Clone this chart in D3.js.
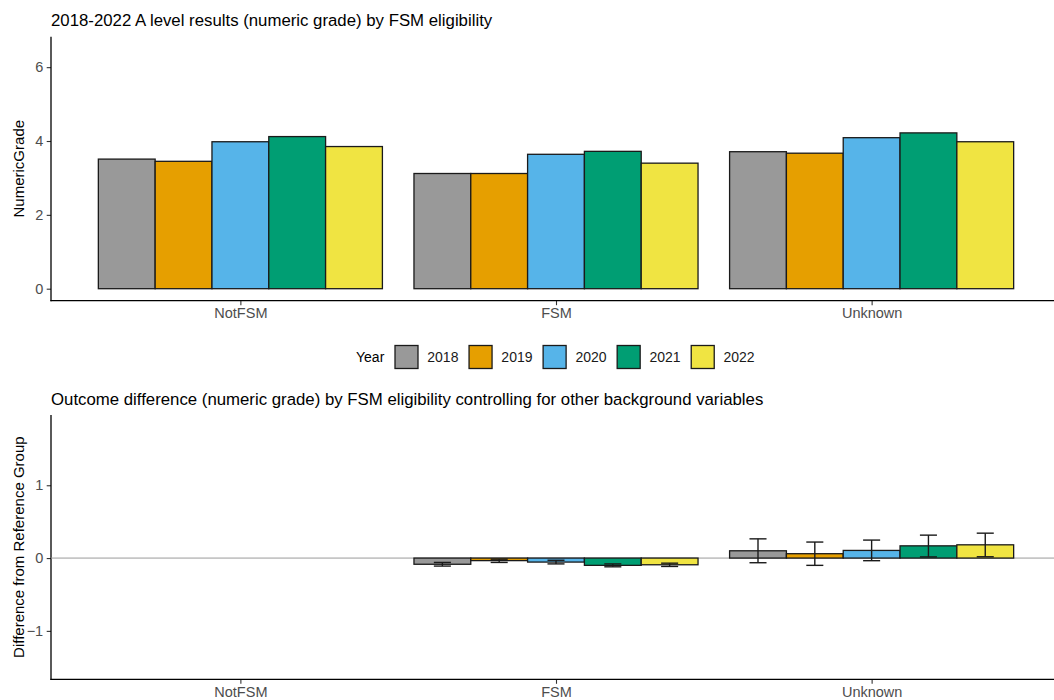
<!DOCTYPE html>
<html>
<head>
<meta charset="utf-8">
<script src="https://cdn.jsdelivr.net/npm/d3@7"></script>
<style>
  html, body { margin: 0; padding: 0; background: #fff; }
  svg { display: block; font-family: "Liberation Sans", Arial, sans-serif; }
</style>
</head>
<body>
<svg id="chart" width="1054" height="700"></svg>
<script>
// ---------- data ----------
const categories = ["NotFSM", "FSM", "Unknown"];
const years = ["2018", "2019", "2020", "2021", "2022"];
const yearColors = ["#999999", "#E69F00", "#56B4E9", "#009E73", "#F0E442"];

// Top panel: mean numeric grade, per category, per year
const grade2018 = [3.51, 3.12, 3.71];
const grade2019 = [3.45, 3.12, 3.67];
const grade2020 = [3.98, 3.64, 4.09];
const grade2021 = [4.12, 3.72, 4.22];
const grade2022 = [3.85, 3.40, 3.98];

// Bottom panel: difference from reference group (NotFSM is the reference: no bar)
const diff2018 = [null, -0.085, 0.10];
const diff2019 = [null, -0.035, 0.06];
const diff2020 = [null, -0.055, 0.105];
const diff2021 = [null, -0.100, 0.168];
const diff2022 = [null, -0.092, 0.182];
const lower2018 = [null, -0.11, -0.064];
const lower2019 = [null, -0.06, -0.10];
const lower2020 = [null, -0.08, -0.036];
const lower2021 = [null, -0.12, 0.016];
const lower2022 = [null, -0.115, 0.018];
const upper2018 = [null, -0.06, 0.264];
const upper2019 = [null, -0.015, 0.22];
const upper2020 = [null, -0.03, 0.247];
const upper2021 = [null, -0.08, 0.315];
const upper2022 = [null, -0.07, 0.342];

const topTicks = [0, 2, 4, 6];
const bottomTicks = [-1, 0, 1];

const topTitle = "2018-2022 A level results (numeric grade) by FSM eligibility";
const bottomTitle = "Outcome difference (numeric grade) by FSM eligibility controlling for other background variables";
const topYLabel = "NumericGrade";
const bottomYLabel = "Difference from Reference Group";
const legendTitle = "Year";

const gradeSeries = [grade2018, grade2019, grade2020, grade2021, grade2022];
const diffSeries = [diff2018, diff2019, diff2020, diff2021, diff2022];
const lowerSeries = [lower2018, lower2019, lower2020, lower2021, lower2022];
const upperSeries = [upper2018, upper2019, upper2020, upper2021, upper2022];

// ---------- layout ----------
const svg = d3.select("#chart");
const W = 1054;
const panelLeft = 51, panelRight = 1061;

const x = d3.scalePoint().domain(categories).range([panelLeft, panelRight]).padding(0.6);
const groupW = x.step() * 0.9;
const xYear = d3.scaleBand().domain(years).range([-groupW / 2, groupW / 2]).padding(0);
const color = d3.scaleOrdinal().domain(years).range(yearColors);

const tickColor = "#333333";
const tickTextColor = "#4d4d4d";

function drawPanel(g, yScale, ticks, top, bottom, yLabel, title, titleY) {
  // title
  svg.append("text")
    .attr("x", panelLeft).attr("y", titleY)
    .attr("font-size", 16.8).attr("fill", "#000")
    .text(title);
  // y axis
  const yAxis = d3.axisLeft(yScale).tickValues(ticks).tickSize(4.3).tickPadding(3.5)
    .tickFormat(d3.format("d"));
  const ya = svg.append("g").attr("transform", `translate(${panelLeft},0)`).call(yAxis);
  ya.select(".domain").remove();
  ya.selectAll(".tick line").attr("stroke", tickColor).attr("stroke-width", 1.1);
  ya.selectAll(".tick text").attr("fill", tickTextColor).attr("font-size", 14.5)
    .attr("font-family", "Liberation Sans, Arial, sans-serif");
  // x axis
  const xAxis = d3.axisBottom(x).tickSize(4.5).tickPadding(3);
  const xa = svg.append("g").attr("transform", `translate(0,${bottom})`).call(xAxis);
  xa.select(".domain").remove();
  xa.selectAll(".tick line").attr("stroke", tickColor).attr("stroke-width", 1.1);
  xa.selectAll(".tick text").attr("fill", tickTextColor).attr("font-size", 14.5)
    .attr("font-family", "Liberation Sans, Arial, sans-serif");
  // axis lines
  svg.append("line").attr("x1", panelLeft).attr("x2", panelLeft)
    .attr("y1", top).attr("y2", bottom + 0.6)
    .attr("stroke", "#000").attr("stroke-width", 1.3);
  svg.append("line").attr("x1", panelLeft - 0.6).attr("x2", W)
    .attr("y1", bottom).attr("y2", bottom)
    .attr("stroke", "#000").attr("stroke-width", 1.3);
  // y label
  svg.append("text")
    .attr("transform", `translate(18,${(top + bottom) / 2}) rotate(-90)`)
    .attr("text-anchor", "middle").attr("dominant-baseline", "central")
    .attr("font-size", 15).attr("fill", "#000")
    .text(yLabel);
}

// ---------- top panel ----------
const topTop = 36.7, topBottom = 300.7;
const yTop = d3.scaleLinear().domain([-0.325, 6.825]).range([topBottom, topTop]);
drawPanel(svg, yTop, topTicks, topTop, topBottom, topYLabel, topTitle, 26);

const topData = [];
categories.forEach((c, ci) => years.forEach((yr, yi) => {
  topData.push({ cat: c, year: yr, value: gradeSeries[yi][ci] });
}));
svg.append("g").selectAll("rect").data(topData).join("rect")
  .attr("x", d => x(d.cat) + xYear(d.year))
  .attr("width", xYear.bandwidth())
  .attr("y", d => yTop(Math.max(0, d.value)))
  .attr("height", d => Math.abs(yTop(d.value) - yTop(0)))
  .attr("fill", d => color(d.year))
  .attr("stroke", "#1a1a1a").attr("stroke-width", 1.3);

// ---------- legend ----------
const legY = 357;
const leg = svg.append("g");
leg.append("text").attr("x", 356).attr("y", legY)
  .attr("dominant-baseline", "central").attr("font-size", 14).attr("fill", "#000")
  .text(legendTitle);
let lx = 395;
years.forEach((yr) => {
  leg.append("rect").attr("x", lx).attr("y", legY - 11.5).attr("width", 23).attr("height", 23)
    .attr("fill", color(yr)).attr("stroke", "#1a1a1a").attr("stroke-width", 1.3);
  const t = leg.append("text").attr("x", lx + 32.3).attr("y", legY)
    .attr("dominant-baseline", "central").attr("font-size", 14).attr("fill", "#1a1a1a")
    .text(yr);
  lx = lx + 32.3 + t.node().getComputedTextLength() + 10.6;
});

// ---------- bottom panel ----------
const botTop = 415, botBottom = 679.3;
const yBot = d3.scaleLinear().domain([-1.665, 1.965]).range([botBottom, botTop]);
drawPanel(svg, yBot, bottomTicks, botTop, botBottom, bottomYLabel, bottomTitle, 405);

// reference line at 0
svg.append("line").attr("x1", panelLeft).attr("x2", W)
  .attr("y1", yBot(0)).attr("y2", yBot(0))
  .attr("stroke", "#9a9a9a").attr("stroke-width", 1);

const botData = [];
categories.forEach((c, ci) => years.forEach((yr, yi) => {
  if (diffSeries[yi][ci] !== null) {
    botData.push({ cat: c, year: yr, value: diffSeries[yi][ci],
      lo: lowerSeries[yi][ci], hi: upperSeries[yi][ci] });
  }
}));
svg.append("g").selectAll("rect").data(botData).join("rect")
  .attr("x", d => x(d.cat) + xYear(d.year))
  .attr("width", xYear.bandwidth())
  .attr("y", d => yBot(Math.max(0, d.value)))
  .attr("height", d => Math.abs(yBot(d.value) - yBot(0)))
  .attr("fill", d => color(d.year))
  .attr("stroke", "#1a1a1a").attr("stroke-width", 1.3);

const capW = xYear.bandwidth() * 0.15;
const cx = d => x(d.cat) + xYear(d.year) + xYear.bandwidth() / 2;
const eb = svg.append("g").selectAll("g").data(botData).join("g")
  .attr("stroke", "#1a1a1a").attr("stroke-width", 1.4);
eb.append("line")
  .attr("x1", cx).attr("x2", cx)
  .attr("y1", d => yBot(d.lo)).attr("y2", d => yBot(d.hi));
eb.append("line")
  .attr("x1", d => cx(d) - capW).attr("x2", d => cx(d) + capW)
  .attr("y1", d => yBot(d.lo)).attr("y2", d => yBot(d.lo));
eb.append("line")
  .attr("x1", d => cx(d) - capW).attr("x2", d => cx(d) + capW)
  .attr("y1", d => yBot(d.hi)).attr("y2", d => yBot(d.hi));
</script>
</body>
</html>
